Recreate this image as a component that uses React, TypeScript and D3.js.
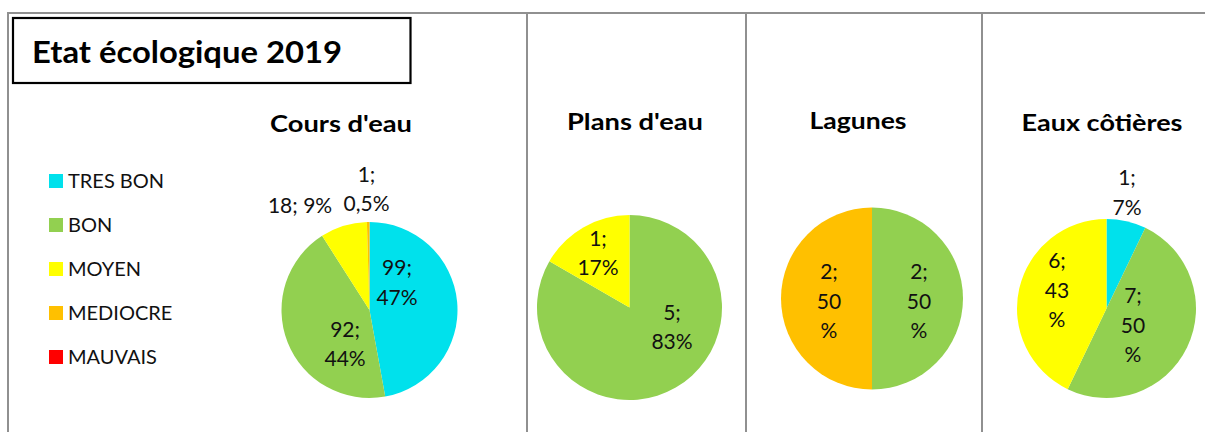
import React from "react";
import * as d3 from "d3";

// ---- data ----
const categories = ["TRES BON", "BON", "MOYEN", "MEDIOCRE", "MAUVAIS"];
const categoryColors = ["#00E1EC", "#92D050", "#FFFF00", "#FFC000", "#FF0000"];
const chartTitle = "Etat écologique 2019";
const panelTitles = ["Cours d'eau", "Plans d'eau", "Lagunes", "Eaux côtières"];
const coursDeau = [99, 92, 18, 1, 0];
const plansDeau = [0, 5, 1, 0, 0];
const lagunes = [0, 2, 0, 2, 0];
const eauxCotieres = [1, 7, 6, 0, 0];
const panelValues = [coursDeau, plansDeau, lagunes, eauxCotieres];

// ---- layout (styling, not data) ----
const W = 1205;
const H = 432;
const FONT = "Lato, 'Open Sans', 'Liberation Sans', sans-serif";
const panelLayout = [
  { cx: 369.5, cy: 310, r: 88, tx: 341, ty: 132, tw: 142 },
  { cx: 629.5, cy: 307.5, r: 92.5, tx: 635, ty: 130, tw: 136 },
  { cx: 872, cy: 298.5, r: 91, tx: 858, ty: 129, tw: 97 },
  { cx: 1106.5, cy: 308.5, r: 89.5, tx: 1102, ty: 131, tw: 161 },
];
// per-category label nudges (dx, dy from centroid) and number of text lines
type LabelStyle = { dx: number; dy: number; lines: number } | null;
const labelStyles: LabelStyle[][] = [
  [
    { dx: -25.1, dy: -22.8, lines: 2 },
    { dx: 24.7, dy: 14.7, lines: 2 },
    { dx: -53.9, dy: -54.5, lines: 1 },
    { dx: -2.2, dy: -68.2, lines: 2 },
    null,
  ],
  [null, { dx: 14.75, dy: -28.6, lines: 2 }, { dx: -3.75, dy: -6.4, lines: 2 }, null, null],
  [null, { dx: -7.6, dy: 2.5, lines: 3 }, null, { dx: 11.6, dy: 2.5, lines: 3 }, null],
  [
    { dx: 8.55, dy: -63.65, lines: 2 },
    { dx: -21.9, dy: -6.8, lines: 3 },
    { dx: 2.85, dy: -6.55, lines: 3 },
    null,
    null,
  ],
];
const frameX = [8, 527, 746, 982];

function fmtPct(p: number): string {
  const v = p * 100;
  if (v < 1) return d3.format(".1f")(v).replace(".", ",");
  return d3.format(".0f")(v);
}

function Pie({ values, idx }: { values: number[]; idx: number }) {
  const L = panelLayout[idx];
  const total = d3.sum(values);
  const pie = d3
    .pie<number>()
    .sort(null)
    .value((d) => d)(values);
  const arc = d3.arc<d3.PieArcDatum<number>>().innerRadius(0).outerRadius(L.r);
  const labelArc = d3
    .arc<d3.PieArcDatum<number>>()
    .innerRadius(L.r * 0.6)
    .outerRadius(L.r * 0.6);
  const lineH = 29.5;
  return (
    <g>
      <text
        x={L.tx}
        y={L.ty}
        textAnchor="middle"
        fontFamily={FONT}
        fontWeight="bold"
        fontSize={23}
        fill="#000"
        textLength={L.tw}
        lengthAdjust="spacingAndGlyphs"
      >
        {panelTitles[idx]}
      </text>
      <g transform={`translate(${L.cx},${L.cy})`}>
        {pie.map((p, i) =>
          p.value > 0 ? (
            <path key={i} d={arc(p) || ""} fill={categoryColors[i]} />
          ) : null
        )}
        {pie.map((p, i) => {
          const st = labelStyles[idx][i];
          if (!st || p.value <= 0) return null;
          const [x0, y0] = labelArc.centroid(p);
          const x = x0 + st.dx;
          const y = y0 + st.dy;
          const pct = fmtPct(p.value / total);
          let lines: string[];
          if (st.lines === 1) lines = [`${p.value}; ${pct}%`];
          else if (st.lines === 2) lines = [`${p.value};`, `${pct}%`];
          else lines = [`${p.value};`, pct, "%"];
          const n = lines.length;
          return (
            <text
              key={"l" + i}
              textAnchor="middle"
              fontFamily={FONT}
              fontSize={21}
              fill="#111"
            >
              {lines.map((t, k) => (
                <tspan key={k} x={x} y={y + (k - (n - 1) / 2) * lineH} dy="0.36em">
                  {t}
                </tspan>
              ))}
            </text>
          );
        })}
      </g>
    </g>
  );
}

export default function App() {
  const legendY = d3
    .scalePoint<string>()
    .domain(categories)
    .range([181, 357]);
  return (
    <svg
      width={W}
      height={H}
      viewBox={`0 0 ${W} ${H}`}
      style={{ position: "absolute", left: 0, top: 0, background: "#fff" }}
    >
      <rect x={0} y={0} width={W} height={H} fill="#fff" />
      {/* frame */}
      <line x1={8} y1={13} x2={W} y2={13} stroke="#909090" strokeWidth={2} />
      {frameX.map((x, i) => (
        <line key={i} x1={x} y1={12} x2={x} y2={H} stroke="#909090" strokeWidth={2} />
      ))}
      {/* title box */}
      <rect x={13} y={18} width={397.5} height={65} fill="#fff" stroke="#000" strokeWidth={2.2} />
      <text
        x={32}
        y={63}
        fontFamily={FONT}
        fontWeight="bold"
        fontSize={31}
        fill="#000"
        textLength={310}
        lengthAdjust="spacingAndGlyphs"
      >
        {chartTitle}
      </text>
      {/* legend */}
      {categories.map((c, i) => (
        <g key={c} transform={`translate(49,${legendY(c)})`}>
          <rect x={0} y={-7} width={14} height={14} fill={categoryColors[i]} />
          <text x={19} y={0} dy="0.36em" fontFamily={FONT} fontSize={20} fill="#111">
            {c}
          </text>
        </g>
      ))}
      {panelValues.map((v, i) => (
        <Pie key={i} values={v} idx={i} />
      ))}
    </svg>
  );
}
